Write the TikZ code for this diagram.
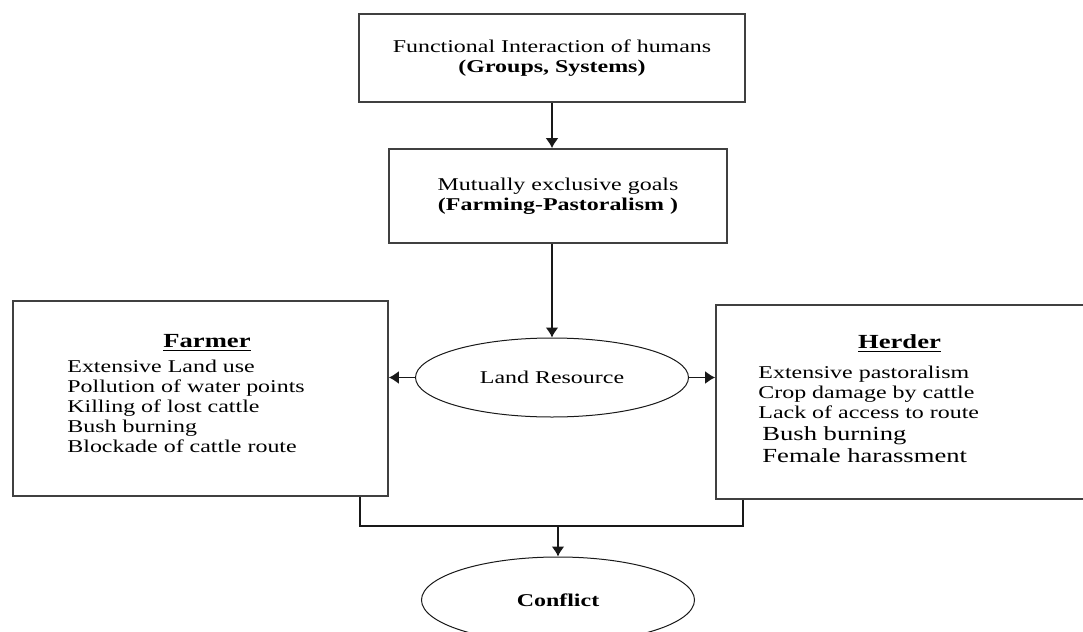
\documentclass[tikz,border=0pt]{standalone}
\usepackage{fontspec}
\setmainfont[FakeStretch=1.33]{Liberation Serif}
\usetikzlibrary{arrows.meta,shapes.geometric,positioning}

\begin{document}
\begin{tikzpicture}[x=0.5pt,y=-0.5pt,>={Latex[length=5pt,width=6.5pt]},
  box/.style={draw=black!75,line width=0.8pt,inner sep=0pt},
  oval/.style={ellipse,draw=black!90,line width=0.5pt,inner sep=0pt},
  txt/.style={font=\fontsize{9}{10}\selectfont,align=center,inner sep=0pt},
  listtxt/.style={font=\fontsize{9}{10}\selectfont,align=left,inner sep=0pt,anchor=north west},
  headtxt/.style={font=\fontsize{10}{11}\selectfont\bfseries,inner sep=0pt,anchor=base},
  link/.style={draw=black!90,line width=0.9pt}]
\clip (0,0) rectangle (1083,632);
\node[box,txt,minimum width=193pt,minimum height=44pt] (func) at (552,58)
  {Functional Interaction of humans\\\textbf{(Groups, Systems)}};
\node[box,txt,minimum width=169pt,minimum height=47pt] (goals) at (558,196)
  {Mutually exclusive goals\\\textbf{(Farming-Pastoralism )}};
\node[oval,minimum width=136.5pt,minimum height=39.5pt,font=\fontsize{9}{10}\selectfont] (land) at (552,377.5) {Land Resource};
\node[box,minimum width=187.5pt,minimum height=97.5pt] (farmer) at (200.5,398.5) {};
\node[headtxt] (farmerhead) at (207,347) {\underline{Farmer}};
\node[listtxt] (farmerlist) at (67,360)
  {Extensive Land use\\Pollution of water points\\Killing of lost cattle\\Bush burning\\Blockade of cattle route};
\node[box,minimum width=187pt,minimum height=97pt] (herder) at (903,402) {};
\node[headtxt] (herderhead) at (899.5,348) {\underline{Herder}};
\node[listtxt] (herderlist) at (758,366)
  {Extensive pastoralism\\Crop damage by cattle\\Lack of access to route};
\node[listtxt,font=\fontsize{10}{11}\selectfont] (herderlistb) at (762,426)
  {Bush burning\\Female harassment};
\node[oval,minimum width=136.5pt,minimum height=43pt,font=\fontsize{9}{10}\selectfont\bfseries] (conflict) at (558,600) {Conflict};

\draw[link,->] (func.south) -- (func.south |- goals.north);
\draw[link,->] (goals.south -| land.north) -- (land.north);
\draw[link,->] (land.west) -- (land.west -| farmer.east);
\draw[link,->] (land.east) -- (land.east -| herder.west);
\coordinate (jl) at (360,526);
\coordinate (jr) at (743,526);
\draw[link] (jl |- farmer.south) -- (jl) -- (jr) -- (jr |- herder.south);
\draw[link,->] (jl -| conflict.north) -- (conflict.north);
\end{tikzpicture}
\end{document}
